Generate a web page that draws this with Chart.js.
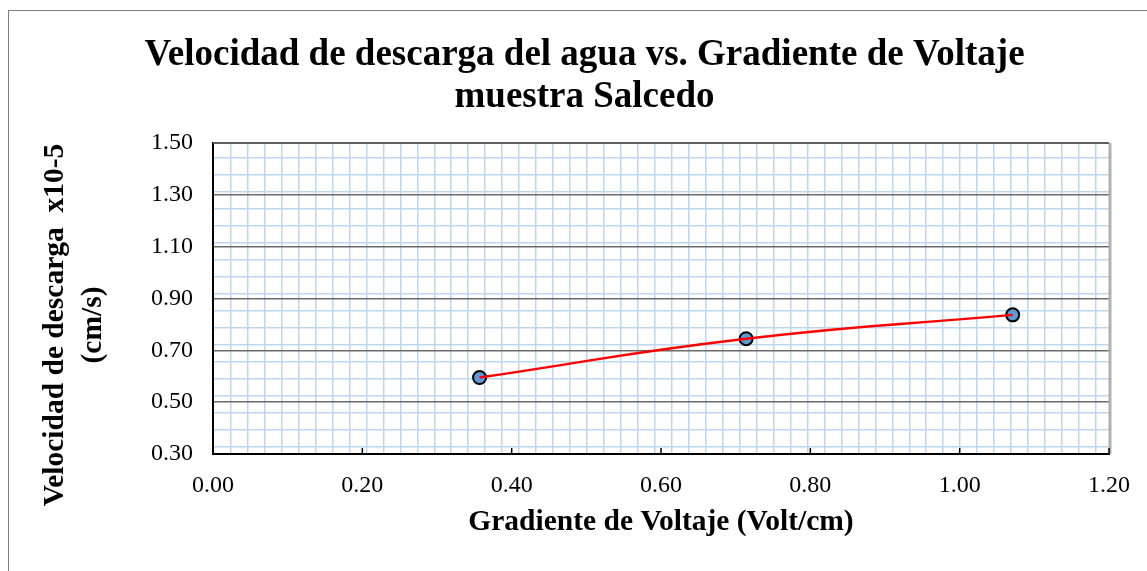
<!DOCTYPE html>
<html>
<head>
<meta charset="utf-8">
<script src="https://cdn.jsdelivr.net/npm/chart.js@4.4.1/dist/chart.umd.min.js"></script>
<style>
  html, body { margin: 0; padding: 0; background: #fff; }
  #frame { position: absolute; left: 8px; top: 10px; width: 1200px; height: 700px; border: 1px solid #7f7f7f; box-sizing: border-box; }
  #wrap { position: absolute; left: 0; top: 0; width: 1147px; height: 571px; }
</style>
</head>
<body>
<div id="frame"></div>
<div id="wrap"><canvas id="chart"></canvas></div>
<script>
// data
var gradiente = [0.357, 0.714, 1.071];        // Volt/cm
var velocidad = [0.595, 0.745, 0.837];        // x10-5 cm/s
var titleLines = ["Velocidad de descarga del agua vs. Gradiente de Voltaje", "muestra Salcedo"];
var xTitle = "Gradiente de Voltaje (Volt/cm)";
var yTitle = ["Velocidad de descarga  x10-5", "(cm/s)"];

var pts = gradiente.map(function (x, i) { return { x: x, y: velocidad[i] }; });

var serif = "'Liberation Serif', 'Times New Roman', serif";

// excel-like fine grid (blue), not aligned to major ticks
function minorTicks(start, step, max) {
  return function (scale) {
    var t = [];
    for (var v = start; v < max; v += step) t.push({ value: v });
    scale.ticks = t;
  };
}

var extras = {
  id: "extras",
  afterDraw: function (chart) {
    var ctx = chart.ctx, a = chart.chartArea, xs = chart.scales.x;
    ctx.save();
    // top + right frame of plot area
    ctx.strokeStyle = "#b0b0b0";
    ctx.lineWidth = 3;
    ctx.beginPath(); ctx.moveTo(a.right + 1, a.top); ctx.lineTo(a.right + 1, a.bottom); ctx.stroke();
    ctx.strokeStyle = "#5f5f5f";
    ctx.lineWidth = 2;
    ctx.beginPath(); ctx.moveTo(a.left, a.top); ctx.lineTo(a.right, a.top); ctx.stroke();
    // inside tick marks on x axis
    ctx.strokeStyle = "#000";
    ctx.lineWidth = 1.5;
    xs.ticks.forEach(function (t) {
      var px = xs.getPixelForValue(t.value);
      ctx.beginPath(); ctx.moveTo(px, a.bottom); ctx.lineTo(px, a.bottom - 6); ctx.stroke();
    });
    // y axis title, two lines
    ctx.fillStyle = "#000";
    ctx.font = "bold 29.5px " + serif;
    ctx.textAlign = "center";
    ctx.textBaseline = "middle";
    ctx.translate(0, 325);
    ctx.rotate(-Math.PI / 2);
    ctx.fillText(yTitle[0], 0, 55);
    ctx.fillText(yTitle[1], 0, 93);
    ctx.restore();
  }
};

new Chart(document.getElementById("chart"), {
  type: "scatter",
  data: {
    datasets: [
      {
        data: pts,
        showLine: true,
        borderColor: "#ff0000",
        borderWidth: 2.5,
        tension: 0.5,
        pointRadius: 0,
        order: 0
      },
      {
        data: pts,
        showLine: false,
        pointRadius: 6.5,
        pointBackgroundColor: "#5b9bd5",
        pointBorderColor: "#000",
        pointBorderWidth: 2,
        order: 1
      }
    ]
  },
  options: {
    responsive: true,
    maintainAspectRatio: false,
    animation: false,
    layout: { padding: { left: 22, right: 0, top: 0, bottom: 0 } },
    plugins: {
      legend: { display: false },
      tooltip: { enabled: false },
      title: {
        display: true,
        text: titleLines,
        color: "#000",
        font: { family: serif, size: 37, weight: "bold", lineHeight: 1.15 },
        padding: { top: 34, bottom: 24 }
      }
    },
    scales: {
      xMinor: {
        type: "linear", position: "bottom", min: 0, max: 1.2, z: -2,
        afterBuildTicks: minorTicks(0.0237, 0.02272, 1.2),
        afterFit: function (s) { s.height = 0; },
        ticks: { display: false },
        border: { display: false },
        grid: { color: "#bdd7ee", lineWidth: 1.5, drawTicks: false }
      },
      yMinor: {
        type: "linear", position: "left", min: 0.3, max: 1.5, z: -2,
        afterBuildTicks: minorTicks(0.3282, 0.0655, 1.5),
        afterFit: function (s) { s.width = 0; },
        ticks: { display: false },
        border: { display: false },
        grid: { color: "#bdd7ee", lineWidth: 1.5, drawTicks: false }
      },
      yRight: {
        type: "linear", position: "right", min: 0, max: 1,
        afterFit: function (s) { s.width = 35; },
        ticks: { display: false },
        border: { display: false },
        grid: { display: false }
      },
      x: {
        type: "linear", position: "bottom", min: 0, max: 1.2, z: -1,
        afterFit: function (s) { s.height = 117; },
        ticks: {
          stepSize: 0.2, padding: 17, color: "#000",
          font: { family: serif, size: 24 },
          callback: function (v) { return v.toFixed(2); }
        },
        grid: { drawOnChartArea: false, drawTicks: false },
        border: { display: true, color: "#000", width: 2 },
        title: {
          display: true, text: xTitle, color: "#000",
          font: { family: serif, size: 29.5, weight: "bold" },
          padding: { top: 4, bottom: 31 }
        }
      },
      y: {
        type: "linear", position: "left", min: 0.3, max: 1.5, z: -1,
        afterFit: function (s) { s.width = 191; },
        ticks: {
          stepSize: 0.2, padding: 20, color: "#000",
          font: { family: serif, size: 24 },
          callback: function (v) { return v.toFixed(2); }
        },
        grid: { color: "#6a6a6a", lineWidth: 1.5, drawTicks: false },
        border: { display: true, color: "#000", width: 2 }
      }
    }
  },
  plugins: [extras]
});
</script>
</body>
</html>
